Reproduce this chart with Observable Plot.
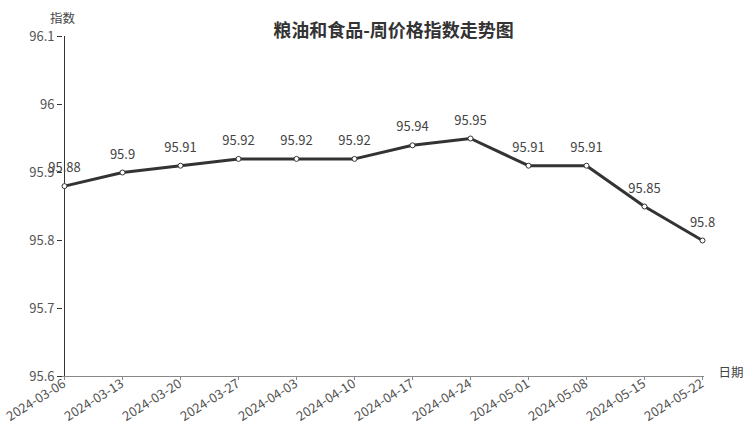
<!DOCTYPE html>
<html><head><meta charset="utf-8">
<script src="https://cdn.jsdelivr.net/npm/d3@7"></script>
<script src="https://cdn.jsdelivr.net/npm/@observablehq/plot@0.6"></script>
<style>body{margin:0;background:#fff;}</style>
</head><body><div id="chart"></div>
<script>
const dates = ["2024-03-06","2024-03-13","2024-03-20","2024-03-27","2024-04-03","2024-04-10","2024-04-17","2024-04-24","2024-05-01","2024-05-08","2024-05-15","2024-05-22"];
const values = [95.88,95.9,95.91,95.92,95.92,95.92,95.94,95.95,95.91,95.91,95.85,95.8];
const yTicks = [95.6,95.7,95.8,95.9,96,96.1];
const title = "粮油和食品-周价格指数走势图";
const yLabel = "指数";
const xLabel = "日期";
const data = dates.map((d,i)=>({date:d, value:values[i]}));
const font = "'Noto Sans CJK SC', 'Noto Sans', sans-serif";
const chart = Plot.plot({
  width:752, height:427, marginLeft:62, marginRight:48, marginTop:36, marginBottom:51,
  style:{fontFamily:font, fontSize:"13px", color:"#555", background:"#fff"},
  x:{type:"point", domain:dates, padding:0},
  y:{domain:[95.6,96.1]},
  marks:[
    Plot.axisY({ticks:yTicks, tickFormat:d=>String(d), tickSize:5, tickPadding:3, label:null, stroke:"#333", fontSize:13}),
    Plot.axisX({tickRotate:-32, tickSize:4, tickPadding:2, label:null, stroke:"#888", fontSize:13}),
    Plot.ruleY([95.6],{stroke:"#888"}),
    Plot.ruleX([dates[0]],{stroke:"#333"}),
    Plot.line(data,{x:"date",y:"value",stroke:"#333",strokeWidth:3}),
    Plot.dot(data,{x:"date",y:"value",r:2.5,fill:"#fff",stroke:"#333",strokeWidth:1}),
    Plot.text(data,{x:"date",y:"value",text:d=>String(d.value),dy:-18,fill:"#444",fontSize:13}),
    Plot.text([title],{frameAnchor:"top",dx:10,dy:-12,fontSize:18,fontWeight:"bold",fill:"#333"}),
    Plot.text([yLabel],{frameAnchor:"top-left",textAnchor:"middle",dy:-22,fontSize:12.5,fill:"#444"}),
    Plot.text([xLabel],{frameAnchor:"bottom-right",textAnchor:"start",dx:14,fontSize:12.5,fill:"#444"})
  ]
});
document.getElementById("chart").appendChild(chart);
</script>
</body></html>
